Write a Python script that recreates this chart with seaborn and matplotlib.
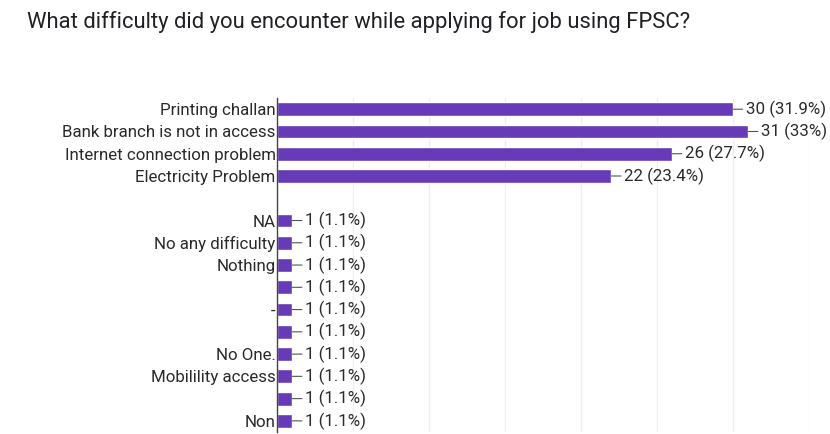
import matplotlib
matplotlib.use("Agg")
import matplotlib.pyplot as plt
import numpy as np
import pandas as pd
import seaborn as sns

# Responses (multi-select), respondents total
categories = [
    "Printing challan",
    "Bank branch is not in access",
    "Internet connection problem",
    "Electricity Problem",
    "",            # spacer row
    "NA",
    "No any difficulty",
    "Nothing",
    " ",
    "-",
    "  ",
    "No One.",
    "Mobilility access",
    "   ",
    "Non",
]
counts = [30, 31, 26, 22, np.nan, 1, 1, 1, 1, 1, 1, 1, 1, 1, 1]
total_respondents = 94

sns.set_theme(style="white")
plt.rcParams["font.family"] = ["Roboto", "DejaVu Sans"]

df = pd.DataFrame({"answer": categories, "count": counts})

fig = plt.figure(figsize=(8.3, 4.34), dpi=100)
ax = fig.add_axes([0.3337, 0.0046, 0.9747 - 0.3337, 0.774 - 0.0046])

sns.barplot(data=df, y="answer", x="count", orient="h", order=categories,
            color="#673ab7", saturation=1, width=0.62, ax=ax)

ax.set_xlim(0, 35)
ax.set_ylim(len(categories) - 0.5, -0.5)
for gx in range(5, 36, 5):
    ax.axvline(gx, color="#eeeeee", lw=0.9, zorder=0)

for s in ["top", "right", "bottom"]:
    ax.spines[s].set_visible(False)
ax.spines["left"].set_color("#444444")
ax.spines["left"].set_linewidth(1.0)
ax.set_xticks([])
ax.set_xlabel("")
ax.set_ylabel("")
ax.tick_params(axis="y", length=0, pad=1, labelsize=12.2, labelcolor="#2a2a2a")

for i, v in enumerate(counts):
    if np.isnan(v):
        continue
    pct = round(v / total_respondents * 100, 1)
    label = f"{int(v)} ({pct:g}%)"
    ax.annotate(label, xy=(v, i), xytext=(13, 0), textcoords="offset pixels",
                ha="left", va="center", fontsize=12.2, color="#2a2a2a",
                arrowprops=dict(arrowstyle="-", color="#555555", lw=0.8,
                                shrinkA=0, shrinkB=0, relpos=(0, 0.5)))

fig.text(27 / 830, 1 - 22 / 434,
         "What difficulty did you encounter while applying for job using FPSC?",
         ha="left", va="center", fontsize=15.8, color="#202124")

fig.savefig("out.png", dpi=100, facecolor="white")
